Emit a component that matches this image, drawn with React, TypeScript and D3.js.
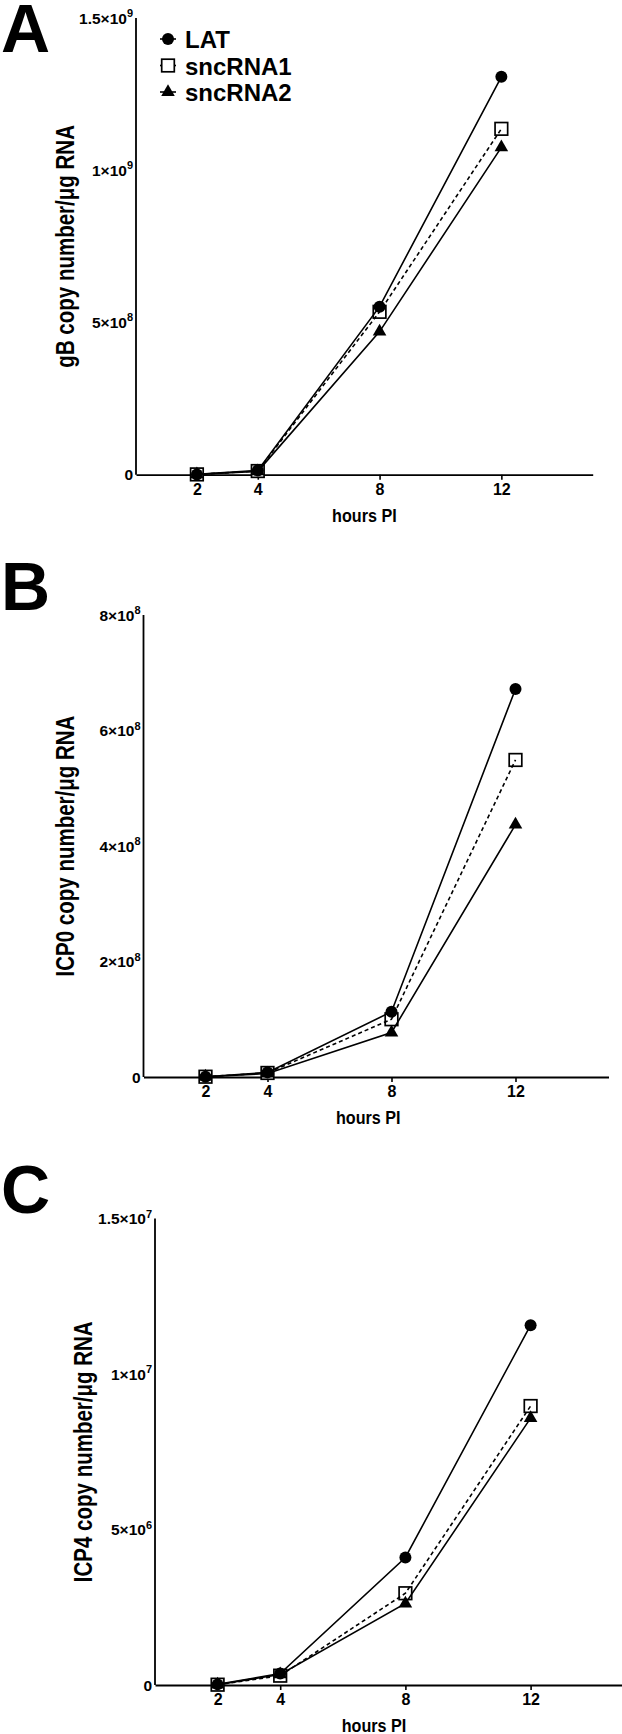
import React, { useEffect, useRef } from 'react';
import * as d3 from 'd3';

// hours post infection
const HOURS = [2, 4, 8, 12];
const X_TICKS = [2, 4, 8, 12];
const SERIES = ['LAT', 'sncRNA1', 'sncRNA2'];

// panel A - gB
const GB_LAT = [1e6, 1.4e7, 5.52e8, 1.307e9];
const GB_SNC1 = [1e6, 1.2e7, 5.35e8, 1.136e9];
const GB_SNC2 = [1e6, 1.1e7, 4.7e8, 1.075e9];
const GB_TICKS = [0, 5e8, 1e9, 1.5e9];

// panel B - ICP0
const ICP0_LAT = [5e5, 8e6, 1.13e8, 6.72e8];
const ICP0_SNC1 = [5e5, 7e6, 1.0e8, 5.49e8];
const ICP0_SNC2 = [5e5, 6e6, 7.7e7, 4.37e8];
const ICP0_TICKS = [0, 2e8, 4e8, 6e8, 8e8];

// panel C - ICP4
const ICP4_LAT = [2e4, 3.7e5, 4.1e6, 1.157e7];
const ICP4_SNC1 = [1e4, 3.0e5, 2.95e6, 8.97e6];
const ICP4_SNC2 = [1e4, 3.4e5, 2.62e6, 8.58e6];
const ICP4_TICKS = [0, 5e6, 1e7, 1.5e7];

const W = 622;
const H = 1734;
const FONT = '"Liberation Sans", Arial, Helvetica, sans-serif';

const PANELS = [
    { letter: 'A', letterY: 52, title: 'gB copy number/μg RNA', data: [GB_LAT, GB_SNC1, GB_SNC2], ticks: GB_TICKS,
      left: 136, right: 592.7, top: 18, bottom: 474.7, titleX: 74, legend: true },
    { letter: 'B', letterY: 610, title: 'ICP0 copy number/μg RNA', data: [ICP0_LAT, ICP0_SNC1, ICP0_SNC2], ticks: ICP0_TICKS,
      left: 143.5, right: 608.5, top: 615, bottom: 1077, titleX: 74, legend: false },
    { letter: 'C', letterY: 1213, title: 'ICP4 copy number/μg RNA', data: [ICP4_LAT, ICP4_SNC1, ICP4_SNC2], ticks: ICP4_TICKS,
      left: 155, right: 624.5, top: 1218.5, bottom: 1685, titleX: 92, legend: false },
];

const supLabel = (sel: any, v: number) => {
    if (v === 0) { sel.text('0'); return; }
    const exp = Math.floor(Math.log10(v) + 1e-9);
    const mant = +(v / Math.pow(10, exp)).toFixed(2);
    sel.append('tspan').text(`${mant}×10`);
    sel.append('tspan').attr('dy', -6.5).style('font-size', '11px').text(exp);
};

const drawMarker = (g: any, kind: number, x: number, y: number) => {
    if (kind === 0) {
        g.append('circle').attr('cx', x).attr('cy', y).attr('r', 6).attr('fill', '#000');
    } else if (kind === 1) {
        g.append('rect').attr('x', x - 6.3).attr('y', y - 6.3).attr('width', 12.6).attr('height', 12.6)
            .attr('fill', '#fff').attr('stroke', '#000').attr('stroke-width', 1.7);
    } else {
        g.append('path').attr('d', d3.symbol(d3.symbolTriangle, 80)()).attr('transform', `translate(${x},${y})`)
            .attr('fill', '#000');
    }
};

export default function App() {
    const svgRef = useRef<SVGSVGElement>(null);

    useEffect(() => {
        if (!svgRef.current) return;
        const svg = d3.select(svgRef.current);
        svg.selectAll('*').remove();
        svg.append('rect').attr('width', W).attr('height', H).attr('fill', '#fff');

        PANELS.forEach(p => {
            const g = svg.append('g');
            const x = d3.scaleLinear().domain([0, 15]).range([p.left, p.right]);
            const y = d3.scaleLinear().domain([0, p.ticks[p.ticks.length - 1]]).range([p.bottom, p.top]);

            g.append('text').attr('x', 1).attr('y', p.letterY).text(p.letter)
                .style('font-family', FONT).style('font-weight', 700).style('font-size', '68px');

            // x axis
            const xa = g.append('g').attr('transform', `translate(0,${p.bottom})`)
                .call(d3.axisBottom(x).tickValues(X_TICKS).tickSize(5).tickSizeOuter(0).tickPadding(4));
            xa.select('.domain').attr('stroke', '#000').attr('stroke-width', 1.8);
            xa.selectAll('.tick line').attr('stroke', '#000').attr('stroke-width', 1.6);
            xa.selectAll('.tick text').style('font-family', FONT).style('font-weight', 700)
                .style('font-size', '16px').attr('fill', '#000');

            g.append('text')
                .attr('transform', `translate(${(p.left + Math.min(p.right, 593)) / 2},${p.bottom + 47}) scale(0.85,1)`)
                .attr('text-anchor', 'middle').text('hours PI')
                .style('font-family', FONT).style('font-weight', 700).style('font-size', '19px');

            // y axis
            g.append('line').attr('x1', p.left).attr('x2', p.left).attr('y1', p.top).attr('y2', p.bottom)
                .attr('stroke', '#000').attr('stroke-width', 1.8);
            p.ticks.forEach(t => {
                const tx = g.append('text').attr('x', p.left - 3).attr('y', y(t) + 5.5)
                    .attr('text-anchor', 'end')
                    .style('font-family', FONT).style('font-weight', 700).style('font-size', '15.5px');
                supLabel(tx, t);
            });

            g.append('text')
                .attr('transform', `translate(${p.titleX},${(p.top + p.bottom) / 2}) rotate(-90) scale(0.82,1)`)
                .attr('text-anchor', 'middle').text(p.title)
                .style('font-family', FONT).style('font-weight', 700).style('font-size', '25px');

            // markers first, square under circle/triangle, lines on top
            [1, 0, 2].forEach(si => {
                p.data[si].forEach((v, i) => drawMarker(g, si, x(HOURS[i]), y(v)));
            });
            const line = d3.line<number>().x((_, i) => x(HOURS[i])).y(v => y(v));
            p.data.forEach((vals, si) => {
                g.append('path').attr('d', line(vals)).attr('fill', 'none').attr('stroke', '#000')
                    .attr('stroke-width', 1.6).attr('stroke-dasharray', si === 1 ? '4,3' : null);
            });

            if (p.legend) {
                SERIES.forEach((name, si) => {
                    const cy = 39 + si * 26.5;
                    g.append('line').attr('x1', 160).attr('x2', 176).attr('y1', cy).attr('y2', cy)
                        .attr('stroke', '#000').attr('stroke-width', 1.6);
                    drawMarker(g, si, 168, cy);
                    g.append('text').attr('x', 185).attr('y', cy + 9).text(name)
                        .style('font-family', FONT).style('font-weight', 700).style('font-size', '24px');
                });
            }
        });
    }, []);

    return (
        <svg ref={svgRef} width={W} height={H}
            style={{ position: 'absolute', left: 0, top: 0, display: 'block' }} />
    );
}
